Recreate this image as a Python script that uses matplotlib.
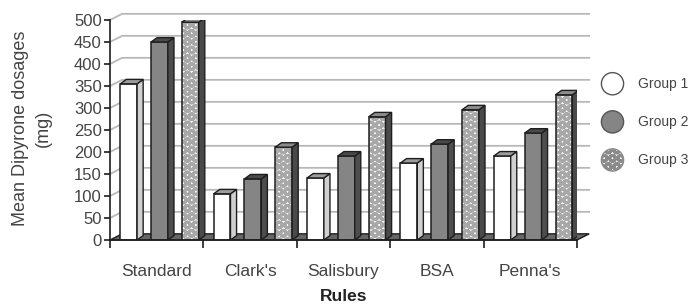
import matplotlib
matplotlib.use("Agg")
import matplotlib.pyplot as plt
import matplotlib.patches as mpatches
from matplotlib.legend_handler import HandlerPatch

# data
rules = ["Standard", "Clark's", "Salisbury", "BSA", "Penna's"]
group_names = ["Group 1", "Group 2", "Group 3"]
group1 = [355, 105, 141, 175, 191]
group2 = [450, 139, 191, 218, 243]
group3 = [495, 211, 280, 296, 330]
y_ticks = list(range(0, 501, 50))

plt.rcParams["font.family"] = ["Liberation Sans", "DejaVu Sans"]
plt.rcParams["hatch.linewidth"] = 2.2

TEXT = "#444444"
EDGE = "#1e1e1e"
WALL_DX, WALL_DY = 0.13, 14  # depth of the 3D box (category units, data units)
BAR_DX, BAR_DY = 0.065, 10   # depth of each bar
BAR_W = 0.18
OFFSETS = [-0.30, 0.03, 0.36]

# face, side, top colours and hatch for each group
styles = [
    dict(face="white", side="#d0d0d0", top="#9c9c9c", hatch=None),
    dict(face="#858585", side="#4d4d4d", top="#4a4a4a", hatch=None),
    dict(face="white", side="#4a4a4a", top="#8c8c8c", hatch="OO"),
]


def draw_bar(ax, x0, h, st):
    """Draws one pseudo-3D bar with a front face, a right side and a top."""
    x1 = x0 + BAR_W
    if st["hatch"]:
        ax.add_patch(mpatches.Rectangle((x0, 0), BAR_W, h, facecolor=st["face"],
                                        edgecolor="#a8a8a8", hatch=st["hatch"],
                                        linewidth=0, zorder=3))
        ax.add_patch(mpatches.Rectangle((x0, 0), BAR_W, h, fill=False,
                                        edgecolor=EDGE, linewidth=1.1, zorder=3))
    else:
        ax.add_patch(mpatches.Rectangle((x0, 0), BAR_W, h, facecolor=st["face"],
                                        edgecolor=EDGE, linewidth=1.1, zorder=3))
    side = [(x1, 0), (x1 + BAR_DX, BAR_DY), (x1 + BAR_DX, h + BAR_DY), (x1, h)]
    ax.add_patch(mpatches.Polygon(side, closed=True, facecolor=st["side"],
                                  edgecolor=EDGE, linewidth=1.0, zorder=3))
    top = [(x0, h), (x1, h), (x1 + BAR_DX, h + BAR_DY), (x0 + BAR_DX, h + BAR_DY)]
    ax.add_patch(mpatches.Polygon(top, closed=True, facecolor=st["top"],
                                  edgecolor=EDGE, linewidth=1.0, zorder=3))


class HandlerCircle(HandlerPatch):
    def create_artists(self, legend, orig_handle, xdescent, ydescent,
                       width, height, fontsize, trans):
        c = mpatches.Circle((width / 2 - xdescent, height / 2 - ydescent),
                            radius=8.0)
        self.update_prop(c, orig_handle, legend)
        c.set_transform(trans)
        return [c]


fig = plt.figure(figsize=(7.0, 3.06), dpi=100)
ax = fig.add_axes([110 / 700, 66 / 306, 467 / 700, 220 / 306])
n = len(rules)
ax.set_xlim(0, n)
ax.set_ylim(0, 500)

# back wall grid lines with the slanted part on the left wall
for v in y_ticks[1:]:
    ax.plot([0, WALL_DX, n + WALL_DX], [v, v + WALL_DY, v + WALL_DY],
            color="#b8b8b8", linewidth=1.3, zorder=1, clip_on=False)

# floor
floor = [(0, 0), (n, 0), (n + WALL_DX, WALL_DY), (WALL_DX, WALL_DY)]
ax.add_patch(mpatches.Polygon(floor, closed=True, facecolor="#666666",
                              edgecolor=EDGE, linewidth=1.0, zorder=2,
                              clip_on=False))

for i in range(n):
    for j, vals in enumerate([group1, group2, group3]):
        x0 = i + 0.5 + OFFSETS[j] - BAR_W / 2
        draw_bar(ax, x0, vals[i], styles[j])

# axes styling
for s in ["top", "right"]:
    ax.spines[s].set_visible(False)
for s in ["left", "bottom"]:
    ax.spines[s].set_color(EDGE)
    ax.spines[s].set_linewidth(1.2)
    ax.spines[s].set_zorder(4)
ax.set_yticks(y_ticks)
ax.tick_params(axis="y", direction="out", length=4, width=1.2, color=EDGE,
               labelsize=12, labelcolor=TEXT, pad=2)
ax.set_xticks(range(n + 1))
ax.set_xticklabels([])
ax.set_xticks([i + 0.5 for i in range(n)], minor=True)
ax.set_xticklabels(rules, minor=True)
ax.tick_params(axis="x", which="major", direction="out", length=6, width=1.2,
               color=EDGE)
ax.tick_params(axis="x", which="minor", length=0, labelsize=12.5,
               labelcolor=TEXT, pad=17)
ax.patch.set_visible(False)

fig.text(32 / 700, (306 - 128) / 306, "Mean Dipyrone dosages\n(mg)",
         rotation=90, ha="center", va="center", fontsize=13, color=TEXT,
         linespacing=1.5)
fig.text(343.5 / 700, (306 - 289) / 306, "Rules", ha="center", va="top",
         fontsize=12.5, fontweight="bold", color="#222222")

handles = []
for st, name in zip(styles, group_names):
    handles.append(mpatches.Circle((0, 0), facecolor=st["face"],
                                   edgecolor="#8a8a8a" if st["hatch"] else "#555555",
                                   hatch=st["hatch"], linewidth=1.0, label=name))
fig.legend(handles=handles, loc="upper left",
           bbox_to_anchor=(600 / 700, (306 - 73) / 306),
           frameon=False, fontsize=10, labelcolor=TEXT,
           handler_map={mpatches.Circle: HandlerCircle()},
           handlelength=1.8, handleheight=2.0, labelspacing=1.2,
           handletextpad=0.9, borderpad=0, borderaxespad=0)

fig.savefig("out.png", dpi=100)
